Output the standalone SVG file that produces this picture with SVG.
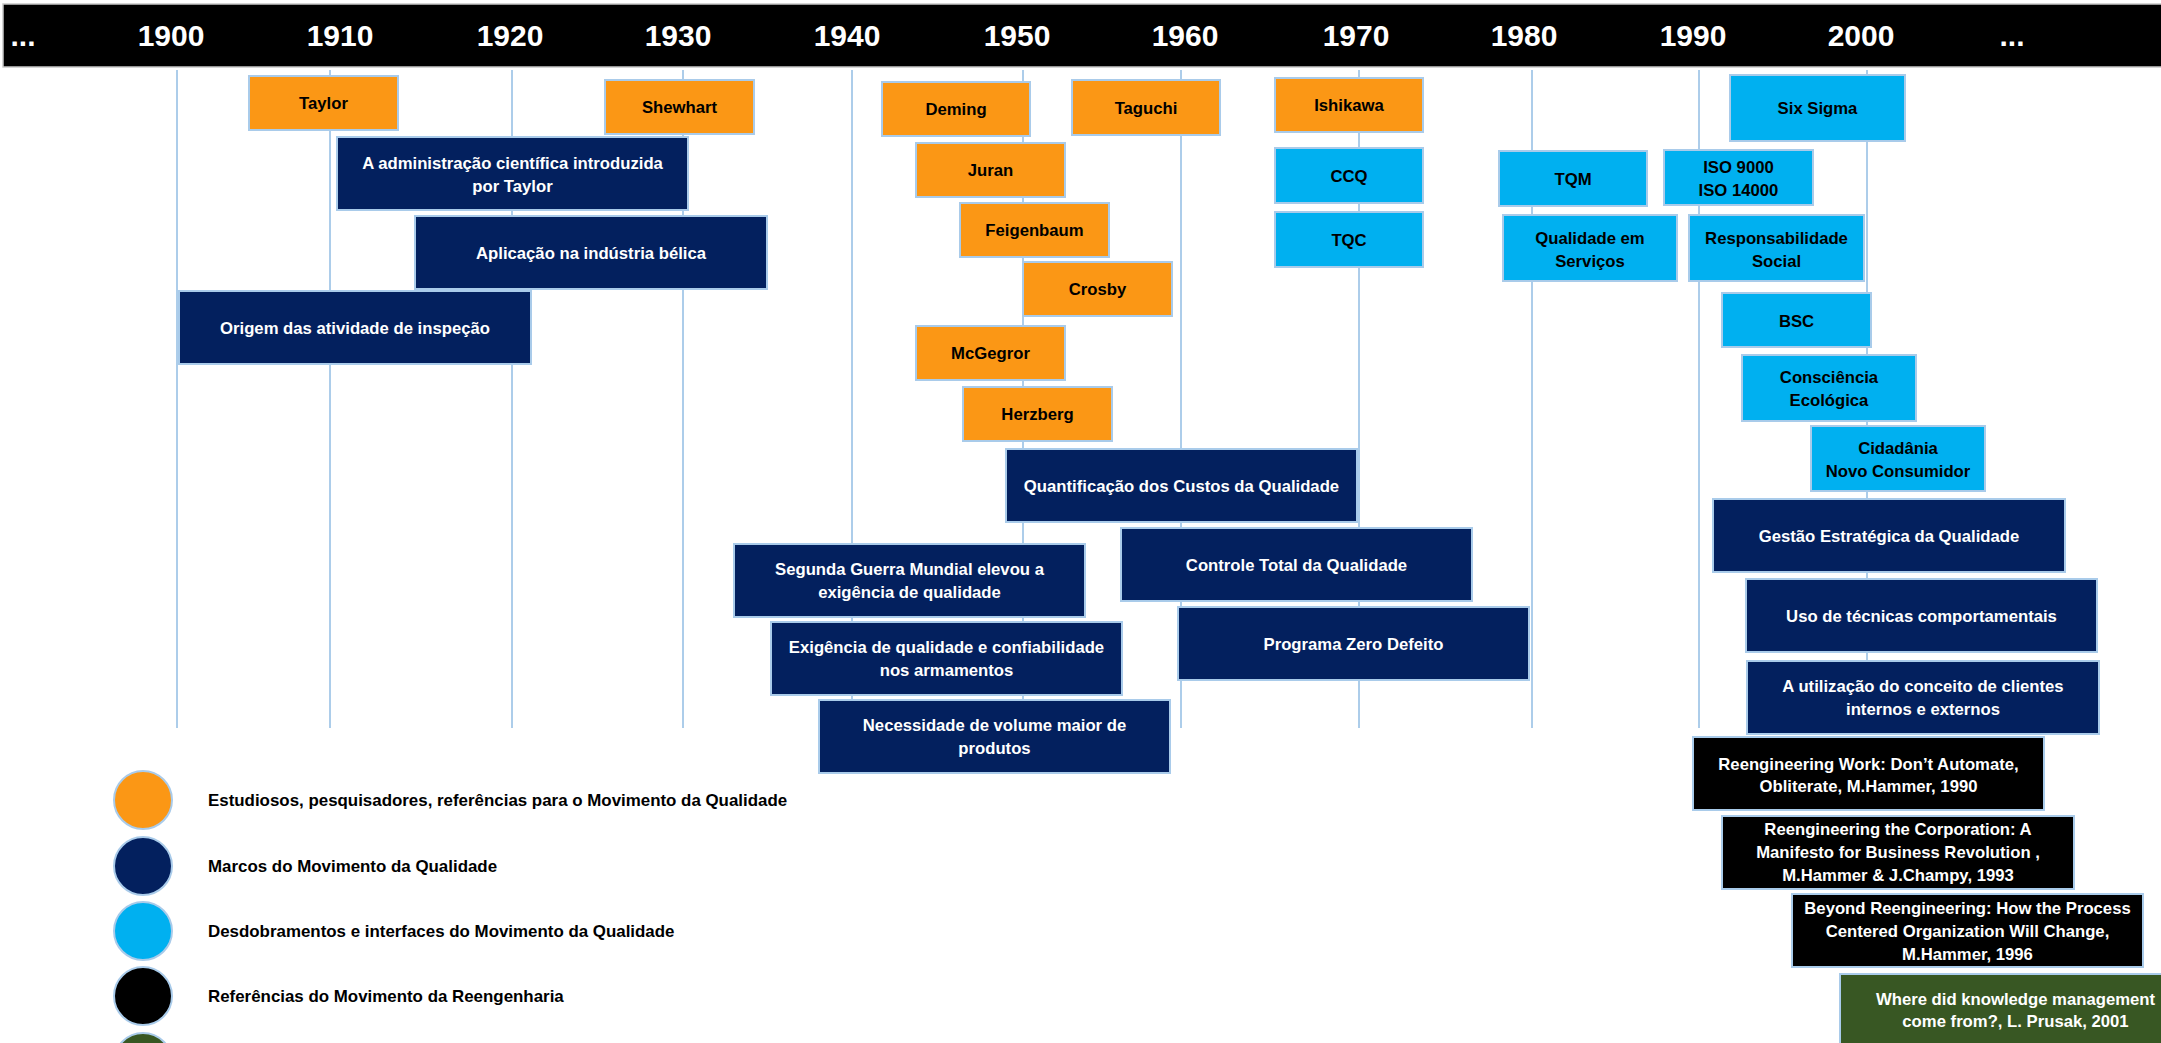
<svg xmlns="http://www.w3.org/2000/svg" width="2161" height="1043" viewBox="0 0 2161 1043">
<style>
text{font-family:"Liberation Sans",Arial,sans-serif;font-weight:bold;}
.yr{font-size:30px;fill:#fff;text-anchor:middle;}
.t{font-size:16.7px;text-anchor:middle;}
.lg{font-size:16.9px;fill:#000;}
.box{stroke:#A9CBEA;stroke-width:2;}
.o .box{fill:#FB9715;} .o text{fill:#000;}
.n .box{fill:#03205E;} .n text{fill:#fff;}
.c .box{fill:#00B0F0;} .c text{fill:#000;}
.k .box{fill:#000;} .k text{fill:#fff;}
.g .box{fill:#385723;} .g text{fill:#fff;}
.grid{stroke:#5B9BD5;stroke-width:1;}
.dot{stroke:#A9CBEA;stroke-width:2;}
</style>
<rect width="2161" height="1043" fill="#fff"/>
<g id="header">
<rect x="3" y="4" width="2160" height="63" fill="#000" stroke="#C8C8C8" stroke-width="1.5"/>
<text class="yr" x="23" y="46">...</text>
<text class="yr" x="171" y="46">1900</text>
<text class="yr" x="340" y="46">1910</text>
<text class="yr" x="510" y="46">1920</text>
<text class="yr" x="678" y="46">1930</text>
<text class="yr" x="847" y="46">1940</text>
<text class="yr" x="1017" y="46">1950</text>
<text class="yr" x="1185" y="46">1960</text>
<text class="yr" x="1356" y="46">1970</text>
<text class="yr" x="1524" y="46">1980</text>
<text class="yr" x="1693" y="46">1990</text>
<text class="yr" x="1861" y="46">2000</text>
<text class="yr" x="2012" y="46">...</text>
</g>
<g id="connectors">
<line class="grid" x1="177" y1="70" x2="177" y2="728"/>
<line class="grid" x1="330" y1="70" x2="330" y2="728"/>
<line class="grid" x1="512" y1="70" x2="512" y2="728"/>
<line class="grid" x1="683" y1="70" x2="683" y2="728"/>
<line class="grid" x1="852" y1="70" x2="852" y2="728"/>
<line class="grid" x1="1023" y1="70" x2="1023" y2="728"/>
<line class="grid" x1="1181" y1="70" x2="1181" y2="728"/>
<line class="grid" x1="1359" y1="70" x2="1359" y2="728"/>
<line class="grid" x1="1532" y1="70" x2="1532" y2="728"/>
<line class="grid" x1="1699" y1="70" x2="1699" y2="728"/>
<line class="grid" x1="1867" y1="70" x2="1867" y2="728"/>
</g>
<g id="taylor" class="o"><rect class="box" x="249" y="76" width="149" height="54"/><text class="t" x="323.5" y="109">Taylor</text></g>
<g id="shewhart" class="o"><rect class="box" x="605" y="80" width="149" height="54"/><text class="t" x="679.5" y="113">Shewhart</text></g>
<g id="deming" class="o"><rect class="box" x="882" y="82" width="148" height="54"/><text class="t" x="956" y="115">Deming</text></g>
<g id="taguchi" class="o"><rect class="box" x="1072" y="80" width="148" height="55"/><text class="t" x="1146" y="113.5">Taguchi</text></g>
<g id="ishikawa" class="o"><rect class="box" x="1275" y="78" width="148" height="54"/><text class="t" x="1349" y="111">Ishikawa</text></g>
<g id="juran" class="o"><rect class="box" x="916" y="143" width="149" height="54"/><text class="t" x="990.5" y="176">Juran</text></g>
<g id="feigenbaum" class="o"><rect class="box" x="960" y="203" width="149" height="54"/><text class="t" x="1034.5" y="236">Feigenbaum</text></g>
<g id="crosby" class="o"><rect class="box" x="1023" y="262" width="149" height="54"/><text class="t" x="1097.5" y="295">Crosby</text></g>
<g id="mcgegror" class="o"><rect class="box" x="916" y="326" width="149" height="54"/><text class="t" x="990.5" y="359">McGegror</text></g>
<g id="herzberg" class="o"><rect class="box" x="963" y="387" width="149" height="54"/><text class="t" x="1037.5" y="420">Herzberg</text></g>

<g id="adm-cientifica" class="n"><rect class="box" x="337" y="137" width="351" height="73"/><text class="t" x="512.5" y="168.5">A administração científica introduzida</text><text class="t" x="512.5" y="191.5">por Taylor</text></g>
<g id="aplicacao" class="n"><rect class="box" x="415" y="216" width="352" height="73"/><text class="t" x="591" y="258.5">Aplicação na indústria bélica</text></g>
<g id="origem" class="n"><rect class="box" x="179" y="291" width="352" height="73"/><text class="t" x="355" y="333.5">Origem das atividade de inspeção</text></g>
<g id="quantificacao" class="n"><rect class="box" x="1006" y="449" width="351" height="73"/><text class="t" x="1181.5" y="491.5">Quantificação dos Custos da Qualidade</text></g>
<g id="controle-total" class="n"><rect class="box" x="1121" y="528" width="351" height="73"/><text class="t" x="1296.5" y="570.5">Controle Total da Qualidade</text></g>
<g id="segunda-guerra" class="n"><rect class="box" x="734" y="544" width="351" height="73"/><text class="t" x="909.5" y="575">Segunda Guerra Mundial elevou a</text><text class="t" x="909.5" y="598">exigência de qualidade</text></g>
<g id="zero-defeito" class="n"><rect class="box" x="1178" y="607" width="351" height="73"/><text class="t" x="1353.5" y="649.5">Programa Zero Defeito</text></g>
<g id="exigencia" class="n"><rect class="box" x="771" y="622" width="351" height="73"/><text class="t" x="946.5" y="653">Exigência de qualidade e confiabilidade</text><text class="t" x="946.5" y="676">nos armamentos</text></g>
<g id="necessidade" class="n"><rect class="box" x="819" y="700" width="351" height="73"/><text class="t" x="994.5" y="731">Necessidade de volume maior de</text><text class="t" x="994.5" y="754">produtos</text></g>
<g id="gestao" class="n"><rect class="box" x="1713" y="499" width="352" height="73"/><text class="t" x="1889" y="541.5">Gestão Estratégica da Qualidade</text></g>
<g id="uso-tecnicas" class="n"><rect class="box" x="1746" y="579" width="351" height="73"/><text class="t" x="1921.5" y="621.5">Uso de técnicas comportamentais</text></g>
<g id="clientes" class="n"><rect class="box" x="1747" y="661" width="352" height="73"/><text class="t" x="1923" y="692">A utilização do conceito de clientes</text><text class="t" x="1923" y="715">internos e externos</text></g>

<g id="six-sigma" class="c"><rect class="box" x="1730" y="75" width="175" height="66"/><text class="t" x="1817.5" y="114">Six Sigma</text></g>
<g id="ccq" class="c"><rect class="box" x="1275" y="148" width="148" height="55"/><text class="t" x="1349" y="182">CCQ</text></g>
<g id="tqc" class="c"><rect class="box" x="1275" y="212" width="148" height="55"/><text class="t" x="1349" y="246">TQC</text></g>
<g id="tqm" class="c"><rect class="box" x="1499" y="151" width="148" height="55"/><text class="t" x="1573" y="185">TQM</text></g>
<g id="iso" class="c"><rect class="box" x="1664" y="150" width="149" height="55"/><text class="t" x="1738.5" y="173">ISO 9000</text><text class="t" x="1738.5" y="196">ISO 14000</text></g>
<g id="qual-servicos" class="c"><rect class="box" x="1503" y="215" width="174" height="66"/><text class="t" x="1590" y="244">Qualidade em</text><text class="t" x="1590" y="267">Serviços</text></g>
<g id="resp-social" class="c"><rect class="box" x="1689" y="215" width="175" height="66"/><text class="t" x="1776.5" y="244">Responsabilidade</text><text class="t" x="1776.5" y="267">Social</text></g>
<g id="bsc" class="c"><rect class="box" x="1722" y="293" width="149" height="54"/><text class="t" x="1796.5" y="327">BSC</text></g>
<g id="consciencia" class="c"><rect class="box" x="1742" y="355" width="174" height="66"/><text class="t" x="1829" y="382.5">Consciência</text><text class="t" x="1829" y="405.5">Ecológica</text></g>
<g id="cidadania" class="c"><rect class="box" x="1811" y="426" width="174" height="65"/><text class="t" x="1898" y="453.5">Cidadânia</text><text class="t" x="1898" y="476.5">Novo Consumidor</text></g>

<g id="reeng-work" class="k"><rect class="box" x="1693" y="737" width="351" height="73"/><text class="t" x="1868.5" y="769.5">Reengineering Work: Don’t Automate,</text><text class="t" x="1868.5" y="792">Obliterate, M.Hammer, 1990</text></g>
<g id="reeng-corp" class="k"><rect class="box" x="1722" y="816" width="352" height="73"/><text class="t" x="1898" y="835">Reengineering the Corporation: A</text><text class="t" x="1898" y="858">Manifesto for Business Revolution ,</text><text class="t" x="1898" y="881">M.Hammer &amp; J.Champy, 1993</text></g>
<g id="beyond" class="k"><rect class="box" x="1792" y="894" width="351" height="73"/><text class="t" x="1967.5" y="914">Beyond Reengineering: How the Process</text><text class="t" x="1967.5" y="937">Centered Organization Will Change,</text><text class="t" x="1967.5" y="960">M.Hammer, 1996</text></g>
<g id="prusak" class="g"><rect class="box" x="1840" y="974" width="351" height="73"/><text class="t" x="2015.5" y="1005">Where did knowledge management</text><text class="t" x="2015.5" y="1027">come from?, L. Prusak, 2001</text></g>

<g id="legend">
<circle class="dot" cx="143" cy="800" r="29" fill="#FB9715"/>
<text class="lg" x="208" y="806">Estudiosos, pesquisadores, referências para o Movimento da Qualidade</text>
<circle class="dot" cx="143" cy="866" r="29" fill="#03205E"/>
<text class="lg" x="208" y="872">Marcos do Movimento da Qualidade</text>
<circle class="dot" cx="143" cy="931" r="29" fill="#00B0F0"/>
<text class="lg" x="208" y="937">Desdobramentos e interfaces do Movimento da Qualidade</text>
<circle class="dot" cx="143" cy="996" r="29" fill="#000"/>
<text class="lg" x="208" y="1002">Referências do Movimento da Reengenharia</text>
<circle class="dot" cx="143" cy="1062" r="29" fill="#385723"/>
</g>
</svg>
